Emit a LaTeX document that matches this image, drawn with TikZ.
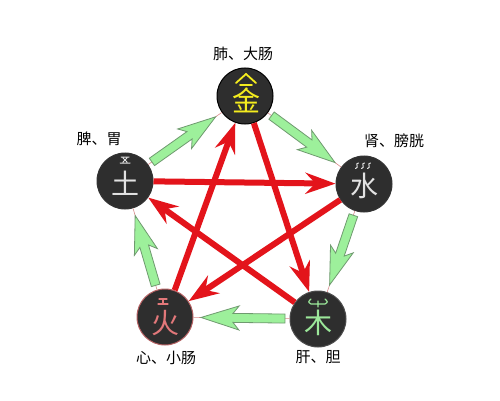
\documentclass[tikz,border=0pt]{standalone}
\usepackage{fontspec}
\newfontfamily\cjk{Noto Sans CJK SC}
\usetikzlibrary{arrows.meta,calc}
\definecolor{elemfill}{HTML}{2E2E2E}
\definecolor{kered}{HTML}{E3141B}
\definecolor{shenggreen}{HTML}{9DF09B}
\definecolor{shengedge}{HTML}{6F9A6F}
\definecolor{linkpink}{HTML}{D98A8A}
\definecolor{jinyellow}{HTML}{F4EC1E}
\definecolor{huopink}{HTML}{E2787A}
\definecolor{mugreen}{HTML}{9CE89A}
\definecolor{pale}{HTML}{E2E2E2}

% block arrow of the generating cycle, from #1 to #2
\newcommand{\shengarrow}[2]{%
  \draw[link] (#1) -- (#2);
  \draw[sheng] let \p1=(#1.center), \p2=(#2.center),
      \n1={atan2(\y2-\y1,\x2-\x1)} in
    ($(#1.center)+(\n1:33pt)+(\n1+90:4.5pt)$)
    -- ($(#2.center)+(\n1+180:68pt)+(\n1+90:4.5pt)$)
    -- ($(#2.center)+(\n1+180:74pt)+(\n1+90:12pt)$)
    -- ($(#2.center)+(\n1+180:36pt)$)
    -- ($(#2.center)+(\n1+180:74pt)+(\n1-90:12pt)$)
    -- ($(#2.center)+(\n1+180:68pt)+(\n1-90:4.5pt)$)
    -- ($(#1.center)+(\n1:33pt)+(\n1-90:4.5pt)$) -- cycle;
}

\begin{document}
\begin{tikzpicture}[x=1pt,y=-1pt,
    elem/.style={circle,minimum size=56pt,inner sep=0pt,fill=elemfill,line width=1pt},
    bigchar/.style={font=\cjk\fontsize{28}{28}\selectfont},
    organ/.style={font=\cjk\fontsize{15}{17}\selectfont,text=black},
    link/.style={linkpink,line width=0.6pt},
    sheng/.style={fill=shenggreen,draw=shengedge,line width=0.8pt,line join=miter},
    ke/.style={kered,line width=6pt,-{Stealth[length=30pt,width=21pt,inset=10pt]}},
    orn/.style={line width=1.4pt,line cap=round}]
\useasboundingbox[fill=white] (0,0) rectangle (500,401);

\node[elem,draw=black] (jin) at (245,96) {};
\node[elem,draw=black!80] (shui) at (364,184) {};
\node[elem,draw=black!70] (mu) at (318,319) {};
\node[elem,draw=huopink!80!black] (huo) at (165,317) {};
\node[elem,draw=black!80] (tu) at (125,181) {};

\node[bigchar,text=jinyellow] (jinchar) at (246,100) {金};
\node[bigchar,text=pale] (shuichar) at (364,186) {水};
\node[bigchar,text=mugreen] (muchar) at (318,323) {木};
\node[bigchar,text=huopink] (huochar) at (165,323) {火};
\node[bigchar,text=pale] (tuchar) at (125,183) {土};

% little marks on top of the glyphs
\draw[orn,jinyellow,line width=1.8pt] (236,83) -- (246,74) -- (256,83) (240,85) -- (252,85);
\draw[orn,pale,line width=1pt] (121,157) -- (129,157) (120,163) -- (130,163) (123,158) -- (127,162) (127,158) -- (123,162);
\foreach \sx in {357,363,369}
  \draw[orn,pale,line width=1pt] (\sx+1.5,163) .. controls (\sx-2.5,163) and (\sx+2.5,168) .. (\sx-1.5,168.5);
\draw[orn,huopink,line width=1.2pt] (159,299) -- (167,299) (163,299) -- (163,304) (158,304) -- (168,304);
\draw[orn,mugreen,line width=1.2pt] (311,299) .. controls (308,302) .. (311,304) -- (325,304) .. controls (328,302) .. (325,299) (318,301) -- (318,307);

\node[organ] (jinlabel) at (243,54) {肺、大肠};
\node[organ] (shuilabel) at (394,141) {肾、膀胱};
\node[organ] (mulabel) at (318,357) {肝、胆};
\node[organ] (huolabel) at (166,358) {心、小肠};
\node[organ] (tulabel) at (99,139) {脾、胃};

\shengarrow{tu}{jin}
\shengarrow{jin}{shui}
\shengarrow{shui}{mu}
\shengarrow{mu}{huo}
\shengarrow{huo}{tu}

\draw[ke] (jin) -- (mu);
\draw[ke] (mu) -- (tu);
\draw[ke] (tu) -- (shui);
\draw[ke] (shui) -- (huo);
\draw[ke] (huo) -- (jin);
\end{tikzpicture}
\end{document}
